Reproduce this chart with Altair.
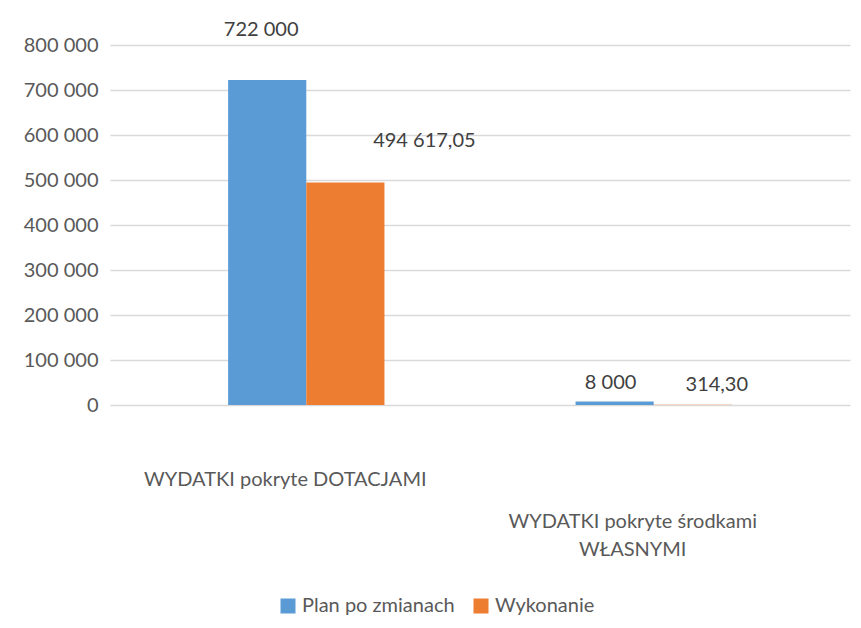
import altair as alt
import pandas as pd

categories = ["WYDATKI pokryte DOTACJAMI", "WYDATKI pokryte środkami WŁASNYMI"]
series = ["Plan po zmianach", "Wykonanie"]
plan_values = [722000, 8000]
wyk_values = [494617.05, 314.30]
plan_labels = ["722 000", "8 000"]
wyk_labels = ["494 617,05", "314,30"]
colors = ["#5b9bd5", "#ed7d31"]

rows = []
for i, c in enumerate(categories):
    rows.append({"cat": c, "series": series[0], "value": plan_values[i], "label": plan_labels[i]})
    rows.append({"cat": c, "series": series[1], "value": wyk_values[i], "label": wyk_labels[i]})
df = pd.DataFrame(rows)

FONT = "Lato"
TXT = "#595959"
FS = 20

x = alt.X("cat:N", sort=categories, title=None,
          scale=alt.Scale(paddingInner=0.55, paddingOuter=0.34),
          axis=alt.Axis(labelAngle=0, labelFontSize=FS, labelColor=TXT, labelFont=FONT,
                        domain=False, ticks=False, labelLimit=400,
                        labelPadding={"condition": {"test": "datum.value == 'WYDATKI pokryte środkami WŁASNYMI'",
                                                    "value": 106},
                                      "value": 64},
                        labelOffset=-21, labelLineHeight=28,
                        labelExpr="datum.value == 'WYDATKI pokryte środkami WŁASNYMI' ? ['WYDATKI pokryte środkami', 'WŁASNYMI'] : datum.value"))
xo = alt.XOffset("series:N", sort=series)
y = alt.Y("value:Q", title=None,
          scale=alt.Scale(domain=[0, 800000]),
          axis=alt.Axis(values=list(range(0, 800001, 100000)),
                        labelExpr="replace(format(datum.value, ',d'), ',', ' ')",
                        labelFontSize=FS, labelColor=TXT, labelFont=FONT, labelPadding=12,
                        domain=False, ticks=False, gridColor="#d9d9d9", gridWidth=1.5))
color = alt.Color("series:N", sort=series,
                  scale=alt.Scale(domain=series, range=colors),
                  legend=alt.Legend(orient="none", legendX=168, legendY=551, direction="horizontal",
                                    title=None, symbolType="square",
                                    symbolSize=225, labelFontSize=FS, labelColor=TXT,
                                    labelFont=FONT, columnPadding=16,
                                    symbolStrokeWidth=0))

base = alt.Chart(df).encode(x=x, xOffset=xo, y=y)
bars = base.mark_bar(stroke=None).encode(color=color)


def value_label(cat_idx, ser_idx, dx, dy):
    return base.transform_filter(
        (alt.datum.cat == categories[cat_idx]) & (alt.datum.series == series[ser_idx])
    ).mark_text(dx=dx, dy=dy, fontSize=FS, font=FONT, color="#404040").encode(text="label:N")


layers = [
    bars,
    value_label(0, 0, -6, -50),
    value_label(0, 1, 79, -41),
    value_label(1, 0, -4, -18),
    value_label(1, 1, 24, -20),
]

chart = alt.layer(*layers).properties(
    width=740, height=360,
    autosize=alt.AutoSizeParams(type="none"),
    padding={"left": 102, "top": 37, "right": 3, "bottom": 215},
).configure_view(stroke=None)

chart.save("out.html", embed_options={"renderer": "svg", "actions": False})
